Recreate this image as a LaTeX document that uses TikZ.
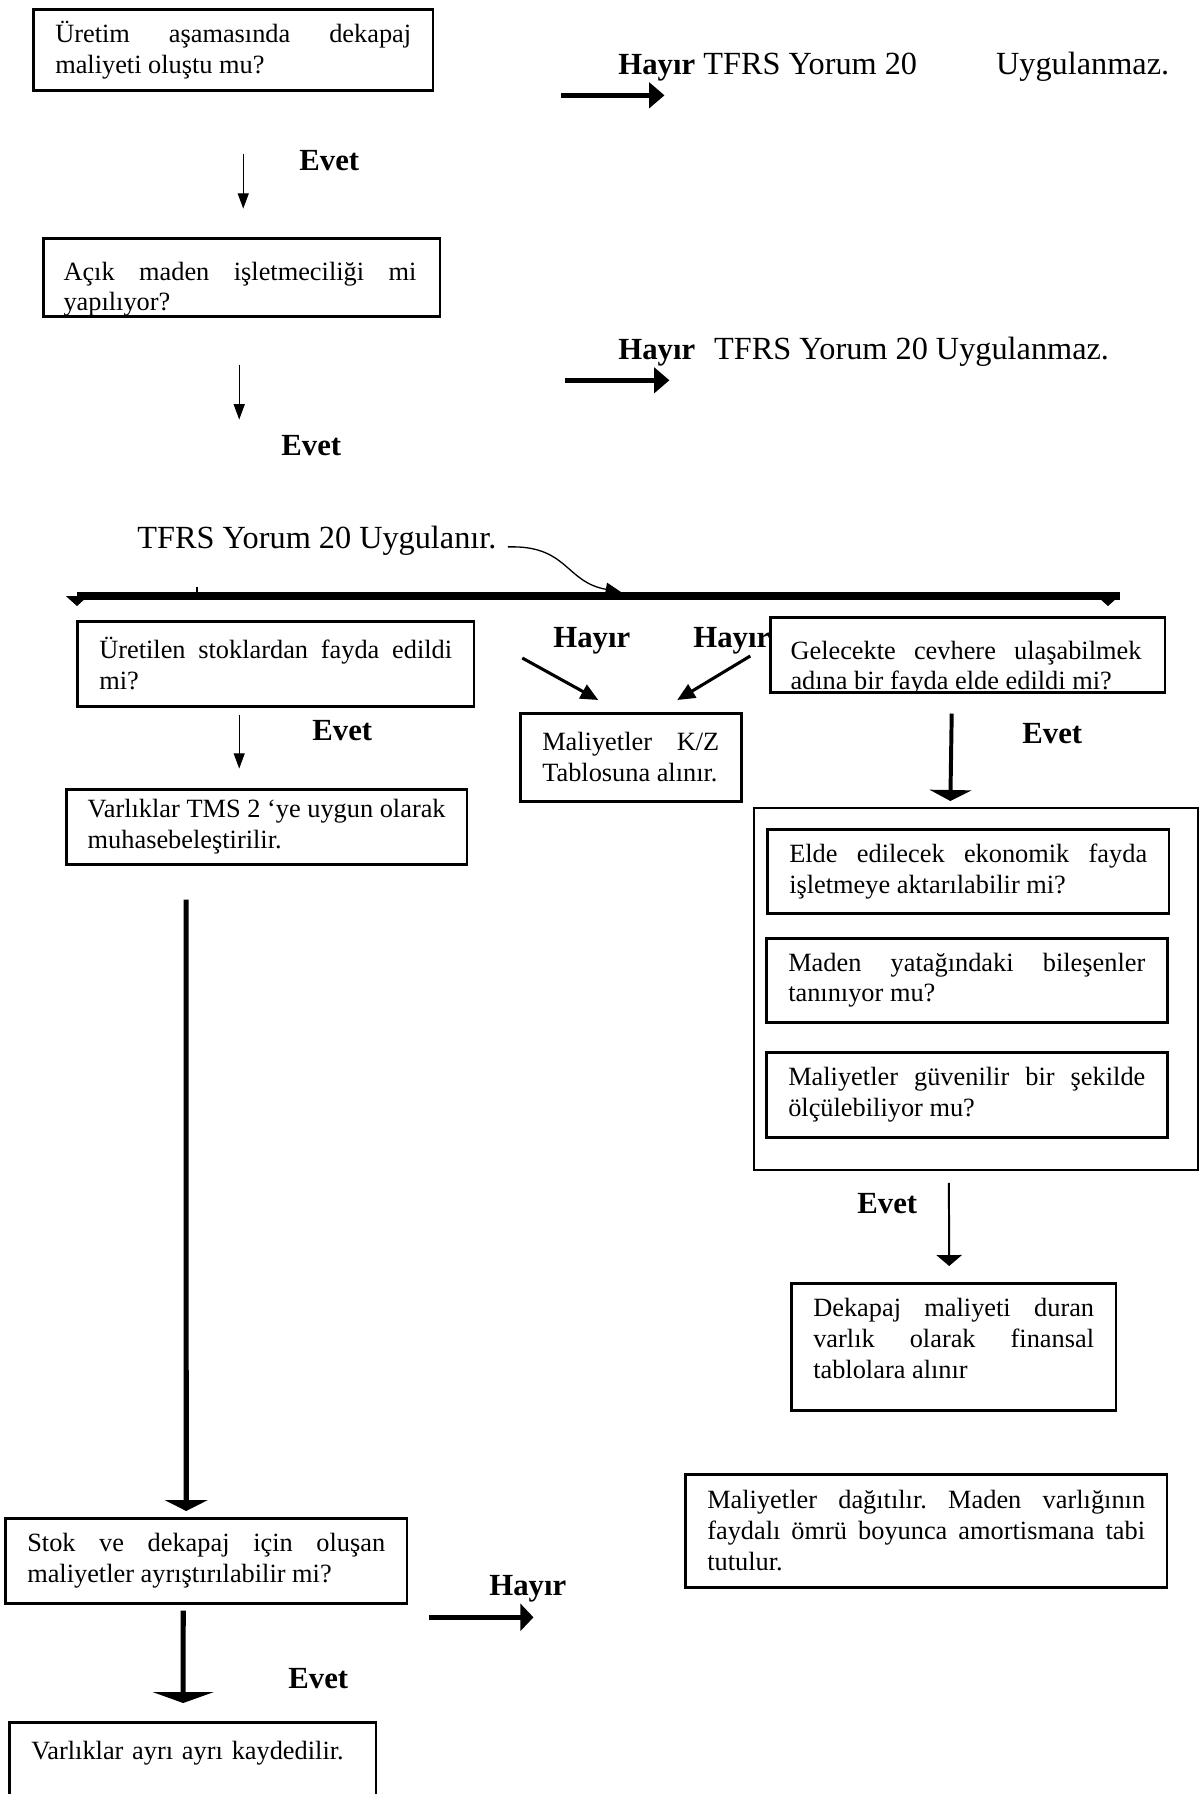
\documentclass[tikz,border=0pt]{standalone}
\usepackage{fontspec}
\setmainfont{Liberation Serif}
\usetikzlibrary{arrows.meta,calc}

\newcommand{\pxu}{0.016cm}
\newcommand{\kutuyazi}{\fontsize{12}{14}\selectfont}
\newcommand{\buyukyazi}{\fontsize{14.7}{17}\selectfont}
\newcommand{\hayiryazi}{\fontsize{14}{17}\selectfont\bfseries}
\hyphenpenalty=10000
\exhyphenpenalty=10000
\tolerance=9999
\emergencystretch=3em
\frenchspacing

\tikzset{
  cerceve/.style={draw, line width=1.2pt, fill=white, anchor=north west, inner sep=0pt},
  kutu/.style={cerceve, align=justify, inner xsep=10pt, inner ysep=0pt, font=\kutuyazi},
  icyazi/.style={anchor=base west, inner sep=0pt, align=justify, font=\kutuyazi},
  etiket/.style={anchor=base west, inner sep=0pt, font=\buyukyazi},
  evet/.style={etiket, font=\hayiryazi},
  ince/.style={-{Triangle[length=7pt,width=5pt]}, line width=0.6pt},
  kalin/.style={-{Triangle[length=7pt,width=11.5pt]}, line width=2.3pt},
  capraz/.style={-{Triangle[length=8pt,width=7pt]}, line width=1.4pt},
  genis/.style={-{Triangle[length=5pt,width=#1]}, line width=2.2pt},
  genis/.default=19pt,
  uc/.style={-{Triangle[length=4.5pt,width=10pt]}, line width=0.4pt}
}

\begin{document}
\begin{tikzpicture}[x=\pxu, y=-\pxu]
\useasboundingbox (0,0) rectangle (1203,1794);

% ilk soru
\node[kutu, text width=162.1pt, minimum height=36.9pt] (uretim) at (32,8)
  {Üretim aşamasında dekapaj maliyeti oluştu mu?};
\node[etiket] (hayir1) at (618,74) {{\hayiryazi Hayır} TFRS Yorum 20\hspace{36pt}Uygulanmaz.};
\draw[kalin] ($(uretim.east)+(127,45.5)$) -- ++(103,0);
\draw[ince] ($(uretim.south)+(10,62)$) -- ++(0,55);
\node[evet] (evet1) at (299,170) {Evet};

% acik maden
\node[cerceve, minimum width=180.7pt, minimum height=35.5pt] (acik) at (42,237) {};
\begin{scope}
  \clip (acik.south west) rectangle (acik.north east);
  \node[icyazi, text width=160.7pt] (acikyazi) at ([xshift=9.6pt,yshift=-19.6pt]acik.north west)
    {Açık maden işletmeciliği mi yapılıyor?};
\end{scope}
\node[etiket] (hayir2) at (618,359) {{\hayiryazi Hayır}\hspace{8.6pt}TFRS Yorum 20 Uygulanmaz.};
\draw[kalin] ($(acik.east)+(124,103)$) -- ++(104,0);
\draw[ince] ($(acik.south)+(-2.5,47)$) -- ++(0,55);
\node[evet] (evet2) at (281,455) {Evet};

% uygulanir ve yatay cubuk
\node[etiket] (uygulanir) at (137,548) {TFRS Yorum 20 Uygulanır.};
\coordinate (solu) at (77,596);
\coordinate (sagi) at (1120,596);
\draw[line width=3.6pt] (solu) -- (sagi);
\draw[uc] (solu) -- ++(0,10);
\draw[uc] ($(sagi)+(-12,0)$) -- ++(0,10);
\draw[line width=0.6pt] ($(solu)+(120,0)$) -- ++(0,-9);
\coordinate (isabet) at ($(solu)+(544,-4)$);
\draw[-{Triangle[length=7pt,width=6pt]}, line width=0.6pt]
  ([xshift=5pt,yshift=0.5pt]uygulanir.base east) .. controls (568,545) and (565,582) .. (isabet);

% sol kol
\node[kutu, text width=160.7pt, minimum height=38.7pt] (stoklar) at (76,620)
  {Üretilen stoklardan fayda edildi mi?};
\draw[ince] ($(stoklar.south)+(-36.5,7)$) -- ++(0,54);
\node[evet] (evet3) at (312,740) {Evet};
\node[kutu, text width=163pt, inner xsep=9.75pt, minimum height=34.1pt] (tms) at (65,788)
  {Varlıklar TMS 2 ‘ye uygun olarak muhasebeleştirilir.};

% orta kol
\node[evet] (hayir3) at (553,647) {Hayır};
\node[evet] (hayir4) at (693,647) {Hayır};
\node[kutu, text width=80.6pt, minimum height=40.1pt] (kz) at (519,712)
  {Maliyetler K/Z Tablosuna alınır.};
\draw[capraz] ($(kz.north)+(-108.5,-54)$) -- ($(kz.north)+(-32.5,-12)$);
\draw[capraz] ($(kz.north)+(119.5,-56)$) -- ($(kz.north)+(46.5,-12)$);

% sag kol
\node[cerceve, minimum width=179.8pt, minimum height=34.1pt] (gelecek) at (769,616) {};
\begin{scope}
  \clip (gelecek.south west) rectangle (gelecek.north east);
  \node[icyazi, text width=159.8pt] (gelecekyazi) at ([xshift=9.6pt,yshift=-19.6pt]gelecek.north west)
    {Gelecekte cevhere ulaşabilmek adına bir fayda elde edildi mi?};
\end{scope}
\node[evet] (evet4) at (1022,743) {Evet};
\node[cerceve, line width=0.9pt, minimum width=202.1pt, minimum height=164.8pt] (kosul) at (753,807) {};
\draw[genis=19pt, line width=1.8pt] ($(gelecek.south)+(-16,20)$) -- ($(kosul.north)+(-25.5,-6)$);
\node[kutu, text width=163pt, minimum height=38.2pt] (elde) at (766,828)
  {Elde edilecek ekonomik fayda işletmeye aktarılabilir mi?};
\node[kutu, text width=162.6pt, minimum height=38.2pt] (bilesen) at (765,937)
  {Maden yatağındaki bileşenler tanınıyor mu?};
\node[kutu, text width=162.6pt, minimum height=38.7pt] (olcum) at (765,1051)
  {Maliyetler güvenilir bir şekilde ölçülebiliyor mu?};
\node[evet] (evet5) at (857,1213) {Evet};
\node[kutu, text width=127.9pt, minimum height=57.8pt, text height=9pt, text depth=36.4pt] (duran) at (790,1282)
  {Dekapaj maliyeti duran varlık olarak finansal tablolara alınır};
\draw[-{Triangle[length=5pt,width=11.5pt]}, line width=0.9pt]
  ($(kosul.south)+(-27,12)$) -- ($(duran.north)+(-4.5,-16)$);
\node[kutu, text width=199.4pt, minimum height=51.4pt] (dagitim) at (684,1473)
  {Maliyetler dağıtılır. Maden varlığının faydalı ömrü boyunca amortismana tabi tutulur.};

% alt bolum
\node[kutu, text width=163pt, minimum height=38.7pt] (ayristir) at (4,1517)
  {Stok ve dekapaj için oluşan maliyetler ayrıştırılabilir mi?};
\draw[genis=19.5pt, line width=2.3pt] ($(tms.south)+(-80.5,34)$) -- ($(ayristir.north)+(-20,-6)$);
\node[evet] (hayir5) at (489,1595) {Hayır};
\draw[-{Triangle[length=6pt,width=12.3pt]}, line width=2.3pt] ($(ayristir.east)+(21,56.5)$) -- ++(104,0);
\node[evet] (evet6) at (288,1688) {Evet};
\node[kutu, align=left, text width=147pt, text height=9pt, text depth=50pt, inner ysep=7.8pt] (ayri) at (8,1721)
  {Varlıklar ayrı ayrı kaydedilir.};
\draw[genis=27.8pt, line width=2.3pt] ($(ayristir.south)+(-23,6)$) -- ($(ayri.north)+(-9.5,-18)$);

\end{tikzpicture}
\end{document}
